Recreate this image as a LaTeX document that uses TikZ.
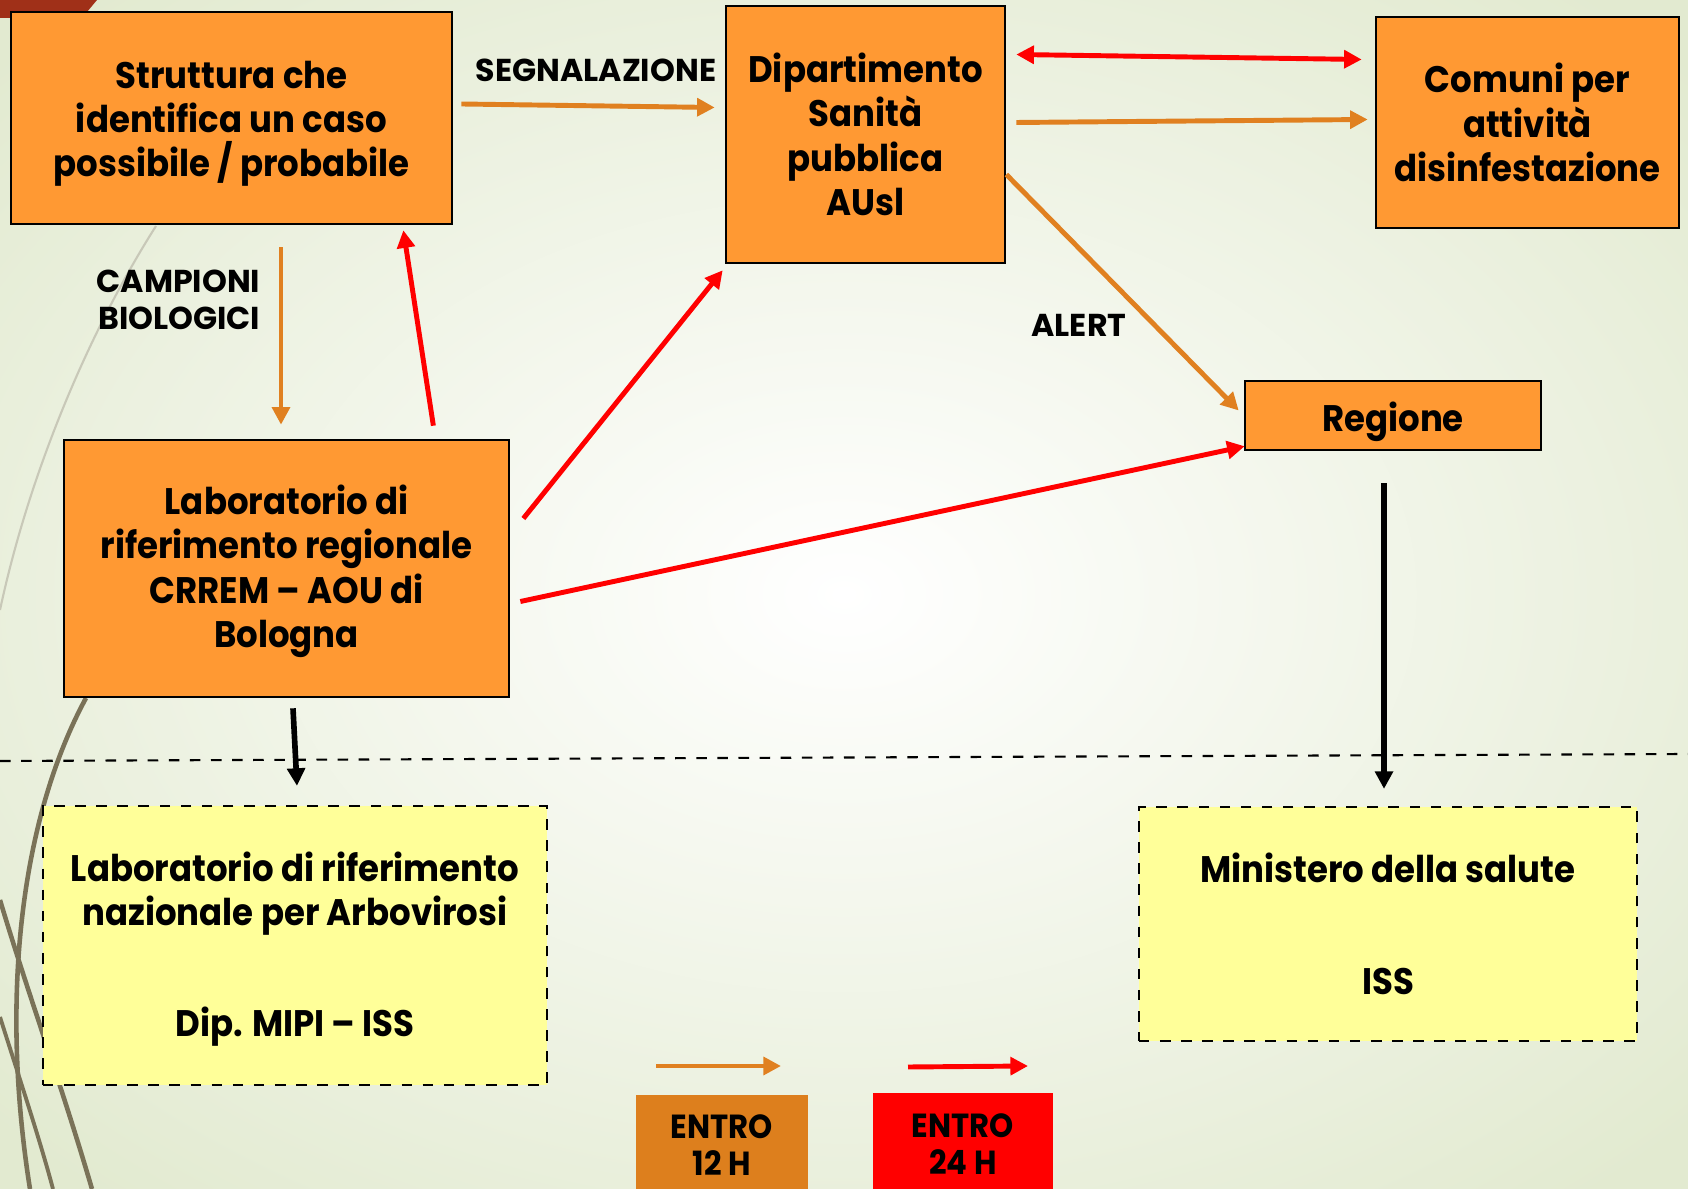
\documentclass[tikz,border=0pt]{standalone}
\usepackage{fontspec}
\setmainfont{Poppins}
\newfontfamily\boxfont{Poppins}[FakeStretch=0.92,Ligatures=TeX]
\usetikzlibrary{arrows.meta,calc}
\definecolor{boxorange}{RGB}{255,153,51}
\definecolor{arroworange}{RGB}{224,128,32}
\definecolor{tagorange}{RGB}{221,127,29}
\definecolor{boxyellow}{RGB}{255,255,153}
\definecolor{swirl}{RGB}{122,114,88}
\definecolor{swirllight}{RGB}{200,200,184}
\definecolor{bgouter}{RGB}{226,234,208}
\definecolor{cornerred}{RGB}{160,48,24}
\newcommand\toprule[1]{\rule{0pt}{#1}}
\begin{document}
\begin{tikzpicture}
[x=0.01cm,y=-0.01cm,
  orangebox/.style={draw=black,line width=0.7pt,fill=boxorange,inner sep=0pt,
    align=center,font=\boxfont\bfseries\fontsize{10.5}{12.6}\selectfont},%
  yellowbox/.style={draw=black,dashed,line width=0.6pt,fill=boxyellow,inner sep=0pt,
    align=center,font=\boxfont\bfseries\fontsize{10.5}{12.6}\selectfont},%
  tagbox/.style={inner sep=0pt,align=center,font=\boxfont\bfseries\fontsize{9.5}{10.4}\selectfont},%
  flowlabel/.style={inner sep=0pt,align=right,font=\bfseries\fontsize{9}{10.5}\selectfont},%
  slowline/.style={draw=arroworange,line width=1.4pt,-{Triangle[length=5pt,width=5pt]}},%
  fastline/.style={draw=red,line width=1.4pt,-{Triangle[length=5pt,width=5pt]}},%
  darkline/.style={draw=black,line width=1.6pt,-{Triangle[length=5pt,width=5pt]}}]
\clip (0,0) rectangle (1688,1189);
%% background
\shade[inner color=white,outer color=bgouter] (-300,-200) rectangle (1988,1389);
\fill[cornerred] (0,0) -- (97,0) -- (82,18) -- (0,18) -- cycle;
\draw[swirllight,line width=0.6pt] (156,226) .. controls (90,330) and (30,470) .. (0,610);
\draw[swirl,line width=1.3pt] (86,698) .. controls (20,820) and (0,1000) .. (30,1189);
\draw[swirl,line width=1.3pt] (0,900) .. controls (30,1000) and (60,1080) .. (92,1189);
\draw[swirl,line width=1.1pt] (0,1017) .. controls (20,1080) and (40,1140) .. (53,1189);
\draw[black,dashed,line width=0.6pt] (0,761) -- (1688,754);
%% nodes
\node (struttura) at (231.5,118) [orangebox,minimum width=4.41cm,minimum height=2.12cm]
  {\toprule{0.39cm}Struttura che\\identifica un caso\\possibile / probabile};
\node (dipartimento) at (865.5,134.5) [orangebox,minimum width=2.79cm,minimum height=2.57cm]
  {Dipartimento\\Sanità\\pubblica\\AUsl};
\node (comuni) at (1527.5,122.5) [orangebox,minimum width=3.03cm,minimum height=2.11cm]
  {Comuni per\\attività\\disinfestazione};
\node (regione) at (1393,415.5) [orangebox,minimum width=2.96cm,minimum height=0.69cm]
  {\toprule{0.42cm}Regione};
\node (labreg) at (286.5,568.5) [orangebox,minimum width=4.45cm,minimum height=2.57cm]
  {\toprule{0.35cm}Laboratorio di\\riferimento regionale\\CRREM -- AOU di\\Bologna};
\node (labnaz) at (295,945.5) [yellowbox,minimum width=5.04cm,minimum height=2.79cm]
  {\toprule{0.37cm}Laboratorio di riferimento\\nazionale per Arbovirosi\\[0.67cm]Dip. MIPI -- ISS};
\node (ministero) at (1388,924) [yellowbox,minimum width=4.98cm,minimum height=2.34cm]
  {Ministero della salute\\[0.67cm]ISS};
\node (entro12) at (722,1145) [tagbox,fill=tagorange,minimum width=1.72cm,minimum height=1.0cm]
  {ENTRO\\12 H};
\node (entro24) at (963,1144) [tagbox,fill=red,minimum width=1.80cm,minimum height=1.02cm]
  {ENTRO\\24 H};
%% labels
\node (segnalazione) at (596,70) [flowlabel] {SEGNALAZIONE};
\node (campioni) [flowlabel,anchor=east] at (261,300) {CAMPIONI\\BIOLOGICI};
\node (alert) at (1079,325) [flowlabel] {ALERT};
%% connectors
\draw[slowline] ($(struttura.east)+(8,-14)$) -- ($(dipartimento.west)+(-10,-27)$);
\draw[slowline] ($(struttura.south)+(49.5,22)$) -- ($(labreg.north)+(-5.5,-14)$);
\draw[fastline] ($(labreg.north east)+(-77,-13)$) -- ($(struttura.south east)+(-50,5)$);
\draw[fastline] ($(labreg.east)+(13,-50)$) -- ($(dipartimento.south west)+(-2,6)$);
\draw[fastline] ($(labreg.east)+(10,33)$) -- ($(regione.south west)+(1,-5)$);
\draw[fastline,{Triangle[length=5pt,width=5pt]}-{Triangle[length=5pt,width=5pt]}]
  ($(dipartimento.east)+(10,-80)$) -- ($(comuni.west)+(-13,-63)$);
\draw[slowline] ($(dipartimento.east)+(10,-12)$) -- ($(comuni.west)+(-7,-3)$);
\draw[slowline] ($(dipartimento.east)+(0,40)$) -- ($(regione.west)+(-5,-5)$);
\draw[darkline] ($(labreg.south)+(6.5,10)$) -- ($(labnaz.north)+(2,-19)$);
\draw[darkline] ($(regione.south)+(-9,32)$) -- ($(ministero.north)+(-4,-17)$);
%% legend
\coordinate (slowfrom) at (656,1066);
\coordinate (slowto) at (781,1066);
\coordinate (fastfrom) at (908,1067);
\coordinate (fastto) at (1028,1066);
\draw[slowline] (slowfrom) -- (slowto);
\draw[fastline] (fastfrom) -- (fastto);
\end{tikzpicture}
\end{document}
